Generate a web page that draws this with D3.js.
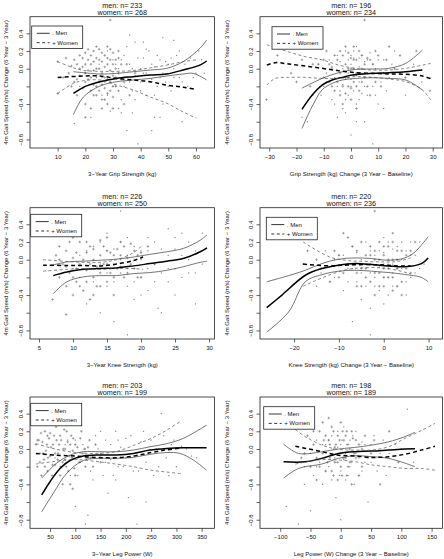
<!DOCTYPE html>
<html><head><meta charset="utf-8">
<script src="https://cdn.jsdelivr.net/npm/d3@7"></script>
<style>body{margin:0;background:#fff}svg{display:block}text{font-family:"Liberation Sans",Arial,sans-serif;fill:#111}</style>
</head><body><svg id="c" width="444" height="559"></svg>
<script>
// ---------- DATA ----------
const menTitles = ["men: n= 233","men: n= 196","men: n= 226","men: n= 220","men: n= 203","men: n= 198"];
const womenTitles = ["women: n= 268","women: n= 234","women: n= 250","women: n= 236","women: n= 199","women: n= 189"];
const xTitles = ["3\u2212Year Grip Strength (kg)","Grip Strength (kg) Change (3 Year \u2212 Baseline)","3\u2212Year Knee Strength (kg)","Knee Strength (kg) Change (3 Year \u2212 Baseline)","3\u2212Year Leg Power (W)","Leg Power (W) Change (3 Year \u2212 Baseline)"];
const yTitle = "4m Gait Speed (m/s) Change (6 Year \u2212 3 Year)";
const xTicks = [[10,20,30,40,50,60],[-30,-20,-10,0,10,20,30],[5,10,15,20,25,30],[-20,-10,0,10],[50,100,150,200,250,300,350],[-100,-50,0,50,100,150]];
const yTicks = [0.4,0.2,0.0,-0.2,-0.4,-0.6,-0.8];
const yTickLabels = ["0.4","0.2","0.0","","\u22120.4","","\u22120.8"];
const legendLabels = [". Men","+ Women"];

// panel 1: 3-year grip strength
const p1MenMean=[[15.7,-0.28],[20,-0.2],[25.3,-0.147],[31.3,-0.11],[37.3,-0.09],[43.4,-0.072],[49.4,-0.06],[55.4,-0.015],[61.4,0.04],[63.9,0.087]];
const p1MenHi=[[15.7,-0.034],[25.3,-0.06],[31.3,-0.053],[37.3,-0.034],[43.4,-0.015],[49.4,0.004],[55.4,0.08],[61.4,0.23],[63.9,0.325]];
const p1MenLo=[[15.7,-0.52],[19.3,-0.32],[25.3,-0.196],[31.3,-0.147],[37.3,-0.128],[43.4,-0.11],[49.4,-0.083],[55.4,-0.06],[59,-0.053],[63.9,-0.128]];
const p1WomMean=[[10,-0.1],[19.3,-0.083],[25.3,-0.083],[31.3,-0.11],[37.3,-0.128],[43.4,-0.147],[49.4,-0.185],[55.4,-0.21],[60.2,-0.234]];
const p1WomHi=[[10,0.08],[15.7,0.01],[19.3,-0.02],[25.3,-0.03],[31.3,-0.03],[37.3,-0.02],[43.4,0.01],[49.4,0.04],[55.4,0.08],[60.2,0.1]];
const p1WomLo=[[10,-0.28],[15.7,-0.166],[19.3,-0.136],[25.3,-0.128],[31.3,-0.185],[37.3,-0.24],[43.4,-0.32],[49.4,-0.39],[55.4,-0.49],[60.2,-0.56]];
const p1MenPts=[[16,-0.62],[18,-0.2],[20,-0.05],[22,-0.55],[24,-0.1],[25,0.05],[26,-0.3],[27,-0.15],[28,0.2],[29,-0.48],[30,-0.05],[30,0.1],[31,-0.2],[32,0.0],[33,-0.35],[34,0.15],[35,-0.1],[35,-0.7],[36,0.05],[37,-0.25],[38,0.3],[38,-0.08],[39,-0.85],[40,0.0],[40,-0.15],[41,0.12],[42,-0.3],[42,-0.05],[43,0.2],[44,-0.12],[45,0.02],[45,-0.55],[46,-0.2],[47,0.1],[48,-0.05],[48,0.35],[49,-0.15],[50,0.05],[51,-0.25],[52,0.0],[53,0.15],[54,-0.1],[55,-0.6],[56,0.05],[57,-0.2],[58,0.12],[60,-0.05],[62,0.1],[36,0.38],[44,-0.7],[33,-0.5],
 [26,-0.1],[28,-0.3],[30,-0.2],[31,0.05],[32,-0.45],[33,0.1],[34,-0.2],[35,0.25],[36,-0.15],[37,0.0],[38,-0.35],[39,0.12],[40,-0.25],[41,-0.05],[42,0.22],[43,-0.15],[44,0.05],[45,-0.3],[46,0.15],[47,-0.1],[48,-0.4],[49,0.08],[50,-0.2],[51,0.12],[52,-0.1],[54,0.2],[55,-0.15],[57,0.0],[59,-0.1],[61,0.2],[63,-0.05],[37,-0.5],[47,-0.55],[41,0.3],[52,0.32]];
const p1WomPts=[[10,0.08],[10,-0.28],[12,-0.1],[13,0.12],[14,-0.05],[15,0.03],[15,-0.2],[16,0.1],[16,-0.15],[17,-0.3],[17,0.05],[18,0.15],[18,-0.08],[19,-0.22],[19,0.02],[20,0.18],[20,-0.05],[20,-0.4],[21,0.1],[21,-0.12],[22,-0.25],[22,0.05],[22,-0.45],[23,0.2],[23,-0.02],[23,-0.18],[24,0.12],[24,-0.08],[24,-0.3],[25,0.0],[25,-0.15],[25,0.22],[26,-0.05],[26,-0.35],[26,0.08],[27,0.15],[27,-0.1],[27,-0.22],[28,0.05],[28,-0.28],[28,0.25],[29,-0.02],[29,-0.15],[29,0.1],[30,-0.08],[30,0.18],[30,-0.32],[31,0.0],[31,-0.2],[32,-0.05],[32,0.12],[33,-0.12],[34,-0.4],[35,0.05],[36,-0.3],[38,-0.05],[20,-0.55],[29,0.55],
 [18,0.0],[19,0.12],[20,-0.15],[21,-0.02],[21,0.22],[22,-0.1],[22,0.15],[23,-0.3],[23,0.08],[24,0.0],[24,-0.2],[25,-0.25],[25,0.1],[26,0.18],[26,-0.18],[27,0.02],[27,-0.35],[28,-0.12],[28,0.12],[29,-0.25],[29,0.22],[30,0.05],[30,-0.2],[31,0.1],[31,-0.1],[32,-0.25],[33,0.05],[34,-0.15],[24,0.25],[26,-0.45],[28,-0.4],[20,0.05],[17,-0.12],[30,-0.45],[32,0.2]];

// panel 2: grip strength change
const p2MenMean=[[-18,-0.46],[-14.3,-0.3],[-10.6,-0.185],[-6.9,-0.128],[-3.2,-0.098],[0.4,-0.072],[7.8,-0.053],[13.9,-0.045],[20.1,-0.034],[26.2,-0.015]];
const p2MenHi=[[-18,-0.22],[-10.6,-0.11],[-4.5,-0.045],[1.7,-0.008],[7.8,-0.004],[13.9,0.004],[20.1,0.06],[26.2,0.21]];
const p2MenLo=[[-18,-0.675],[-14.3,-0.43],[-10.6,-0.24],[-6.9,-0.166],[-3.2,-0.128],[1.7,-0.11],[7.8,-0.102],[13.9,-0.11],[20.1,-0.128],[26.2,-0.24]];
const p2WomMean=[[-30.9,0.04],[-27.8,0.068],[-22.9,0.053],[-16.7,0.03],[-10.6,0.004],[-4.5,-0.023],[1.7,-0.045],[7.8,-0.053],[13.9,-0.06],[20.1,-0.064],[26.2,-0.083],[29.3,-0.113]];
const p2WomHi=[[-30.9,0.27],[-22.9,0.19],[-16.7,0.136],[-10.6,0.1],[-4.5,0.04],[1.7,0.004],[7.8,-0.015],[13.9,-0.015],[20.1,0.004],[26.2,0.04],[29.3,0.06]];
const p2WomLo=[[-30.9,-0.185],[-27.8,-0.11],[-22.9,-0.098],[-16.7,-0.098],[-10.6,-0.11],[-4.5,-0.11],[1.7,-0.09],[7.8,-0.098],[13.9,-0.117],[20.1,-0.147],[26.2,-0.24],[29.3,-0.355]];
const p2MenPts=[[-18,-0.55],[-14,-0.3],[-12,0.05],[-10,-0.2],[-9,-0.05],[-8,0.1],[-7,-0.35],[-6,-0.1],[-5,0.15],[-4,-0.25],[-3,0.0],[-3,-0.45],[-2,0.2],[-2,-0.12],[-1,-0.3],[0,0.05],[0,-0.2],[1,0.12],[1,-0.08],[2,-0.4],[2,0.25],[3,-0.15],[3,0.02],[4,-0.28],[5,0.08],[5,-0.6],[6,-0.05],[7,0.18],[8,-0.2],[9,0.0],[10,-0.4],[12,0.1],[14,-0.1],[16,0.2],[18,-0.05],[20,-0.3],[23,0.05],[26,-0.15],[-16,-0.6],[0,-0.75],[8,-0.85],[-5,-0.55],
 [-9,-0.15],[-7,0.0],[-6,-0.4],[-5,-0.2],[-4,0.08],[-3,-0.18],[-2,-0.35],[-1,0.1],[-1,-0.05],[0,0.15],[0,-0.12],[1,-0.25],[1,0.2],[2,-0.08],[3,-0.35],[3,0.12],[4,-0.05],[4,0.15],[5,-0.2],[6,-0.3],[6,0.1],[7,-0.1],[8,0.05],[9,-0.3],[10,0.1],[11,-0.15],[13,-0.25],[15,0.05],[-2,-0.5],[2,-0.6],[-11,-0.3],[12,-0.45]];
const p2WomPts=[[-31,-0.35],[-27,0.15],[-22,-0.05],[-18,0.1],[-15,-0.2],[-12,0.05],[-10,-0.1],[-9,0.2],[-8,-0.15],[-7,0.02],[-6,-0.25],[-5,0.1],[-4,-0.05],[-4,-0.3],[-3,0.15],[-2,-0.1],[-2,0.05],[-1,-0.2],[-1,0.18],[0,0.0],[0,-0.35],[1,0.1],[1,-0.15],[2,-0.05],[3,0.2],[3,-0.25],[4,0.0],[5,-0.1],[5,0.55],[6,0.12],[7,-0.3],[8,0.05],[9,-0.15],[10,0.15],[12,-0.05],[14,0.25],[16,0.0],[20,-0.1],[24,0.2],[29,-0.25],[-3,-0.4],[2,-0.45],
 [-10,0.1],[-8,0.05],[-7,-0.2],[-6,0.15],[-5,-0.15],[-4,0.2],[-3,-0.2],[-2,0.25],[-2,-0.28],[-1,0.0],[-1,-0.1],[0,0.12],[0,-0.22],[1,0.0],[1,0.25],[2,0.1],[2,-0.2],[3,-0.05],[4,0.15],[4,-0.15],[5,0.05],[6,-0.2],[7,0.1],[8,-0.05],[9,0.2],[11,-0.2],[13,0.1],[-14,0.05],[-20,-0.15],[18,0.15]];

// panel 3: 3-year knee strength
const p3MenMean=[[7.1,-0.18],[9.1,-0.14],[11.5,-0.108],[14,-0.1],[16.4,-0.093],[18.9,-0.07],[21.3,-0.044],[23.8,-0.017],[26.2,0.013],[28.7,0.09],[29.7,0.135]];
const p3MenHi=[[7.1,-0.06],[9.1,-0.025],[11.5,-0.017],[14,-0.006],[16.4,0.006],[18.9,0.03],[21.3,0.06],[23.8,0.09],[26.2,0.127],[28.7,0.22],[29.7,0.28]];
const p3MenLo=[[7.1,-0.384],[9.1,-0.25],[11.5,-0.195],[14,-0.18],[16.4,-0.18],[18.9,-0.157],[21.3,-0.146],[23.8,-0.12],[26.2,-0.08],[28.7,-0.03],[29.7,-0.017]];
const p3WomMean=[[5.6,-0.062],[9.1,-0.065],[11.5,-0.065],[14,-0.07],[16.4,-0.05],[18.9,-0.01],[20.3,0.03]];
const p3WomHi=[[5.6,0.0],[9.1,-0.02],[11.5,-0.03],[14,-0.03],[16.4,0.0],[18.9,0.08],[20.3,0.17]];
const p3WomLo=[[5.6,-0.13],[9.1,-0.11],[11.5,-0.1],[14,-0.11],[16.4,-0.1],[18.9,-0.1],[20.3,-0.11]];
const p3MenPts=[[10,-0.1],[11,0.05],[12,-0.5],[13,0.15],[13,-0.25],[14,-0.05],[15,0.1],[15,-0.3],[16,-0.05],[16,-0.7],[17,0.2],[17,-0.15],[17,0.55],[18,-0.3],[18,0.05],[19,-0.1],[19,0.15],[20,-0.2],[20,0.0],[21,0.1],[21,-0.35],[22,-0.05],[22,0.2],[23,-0.15],[23,-0.6],[24,0.05],[24,-0.25],[25,0.12],[25,-0.1],[26,-0.2],[26,0.3],[27,0.0],[27,-0.15],[28,0.1],[28,-0.5],[29,0.3],[29,-0.05],[20,-0.4],[18,-0.85],[14,-0.6],[22.5,-0.55],
 [11,-0.2],[12,0.1],[13,-0.1],[14,0.2],[15,-0.15],[16,0.12],[16,-0.25],[17,0.0],[18,-0.1],[18,0.25],[19,-0.25],[20,0.1],[21,-0.1],[22,-0.25],[23,0.12],[24,-0.1],[25,0.25],[26,0.05],[27,0.2],[28,-0.15],[19,-0.45],[15,0.3],[24,0.35],[21,0.25],[25,-0.4]];
const p3WomPts=[[7,-0.45],[7.5,0.05],[8,-0.2],[8,0.15],[8.5,-0.05],[9,-0.3],[9,0.1],[9.5,-0.15],[10,0.02],[10,0.25],[10.5,-0.25],[10.5,-0.1],[11,0.2],[11,-0.05],[11.5,-0.35],[12,0.08],[12,-0.12],[12.5,0.15],[13,-0.2],[13,0.0],[13.5,-0.08],[14,0.22],[14,-0.3],[14.5,-0.05],[15,0.1],[15,-0.25],[15.5,-0.15],[16,0.05],[16,-0.4],[16.5,0.12],[17,-0.08],[17,0.2],[17.5,-0.2],[18,0.02],[18.5,0.18],[19,-0.1],[19.5,0.05],[20,-0.2],[21,0.15],[22,-0.05],[9,-0.62],[12.5,-0.45],
 [8,0.0],[9,-0.08],[9.5,0.2],[10,-0.2],[10.5,0.08],[11,-0.3],[11.5,0.0],[12,0.2],[12,-0.25],[12.5,-0.05],[13,0.12],[13.5,-0.3],[14,0.05],[14,-0.15],[14.5,0.15],[15,-0.05],[15.5,0.08],[16,-0.2],[16.5,-0.1],[17,0.05],[17.5,0.15],[18,-0.15],[18.5,-0.05],[19,0.1],[19.5,-0.2],[20,0.08],[13,-0.4],[11,0.28],[15,0.25],[10,-0.4]];

// panel 4: knee strength change
const p4MenMean=[[-26.1,-0.543],[-22.7,-0.4],[-17.5,-0.176],[-13.8,-0.1],[-10.1,-0.062],[-6.4,-0.044],[-2.7,-0.055],[1,-0.07],[4.7,-0.08],[8.4,-0.044],[9.9,0.02]];
const p4MenHi=[[-26.1,-0.25],[-21.2,-0.18],[-17.5,-0.12],[-13.8,-0.044],[-10.1,0.005],[-6.4,0.02],[-2.7,0.013],[1,-0.006],[4.7,0.02],[7,0.09],[9.9,0.26]];
const p4MenLo=[[-26.1,-0.82],[-21.2,-0.59],[-17.5,-0.25],[-13.8,-0.17],[-10.1,-0.13],[-6.4,-0.12],[-2.7,-0.13],[1,-0.145],[4.7,-0.167],[8.4,-0.2],[9.9,-0.25]];
const p4WomMean=[[-18,-0.05],[-12,-0.07],[-8,-0.06],[-4,-0.055],[0,-0.06],[3,-0.07],[6,-0.07]];
const p4WomHi=[[-18,0.2],[-12,0.03],[-8,-0.01],[-4,-0.02],[0,-0.025],[3,-0.02],[6,0.02]];
const p4WomLo=[[-18,-0.3],[-12,-0.17],[-8,-0.11],[-4,-0.09],[0,-0.095],[3,-0.12],[6,-0.16]];
const p4MenPts=[[-18,-0.05],[-15,-0.3],[-13,0.1],[-11,-0.2],[-10,0.05],[-9,-0.35],[-8,-0.1],[-7,0.15],[-6,-0.25],[-5,0.0],[-5,-0.45],[-4,0.2],[-3,-0.15],[-3,-0.55],[-2,0.05],[-2,-0.3],[-1,0.1],[-1,-0.08],[0,-0.2],[0,0.25],[1,-0.05],[1,-0.4],[2,0.12],[2,-0.15],[3,0.0],[3,-0.3],[4,0.2],[4,-0.1],[5,-0.25],[6,0.05],[7,-0.15],[8,0.2],[9,-0.05],[-7,-0.7],[-3,-0.85],[-12,-0.25],
 [-9,0.05],[-8,-0.25],[-7,-0.1],[-6,0.08],[-5,-0.15],[-4,-0.3],[-4,-0.05],[-3,0.1],[-2,-0.2],[-1,-0.35],[0,0.08],[0,-0.05],[1,0.2],[1,-0.2],[2,-0.05],[2,-0.3],[3,0.15],[3,-0.1],[4,0.0],[5,0.1],[5,-0.4],[6,-0.2],[7,0.05],[8,-0.1],[-11,0.0],[-14,-0.15],[0,-0.5],[6,0.2]];
const p4WomPts=[[-17,0.1],[-14,-0.1],[-12,-0.25],[-10,0.05],[-9,-0.15],[-8,0.25],[-7,-0.05],[-6,0.1],[-6,-0.3],[-5,-0.1],[-4,0.05],[-4,-0.2],[-3,0.15],[-3,-0.05],[-2,-0.4],[-2,0.0],[-1,0.2],[-1,-0.15],[0,0.05],[0,-0.1],[0,-0.3],[1,0.15],[1,-0.2],[2,0.0],[2,-0.35],[3,0.1],[3,-0.1],[4,-0.25],[5,0.05],[6,-0.15],[7,0.2],[-2,0.55],[4,-0.4],
 [-11,0.1],[-10,-0.2],[-8,-0.05],[-7,0.15],[-6,-0.15],[-5,0.2],[-5,-0.3],[-4,-0.1],[-3,0.05],[-3,-0.25],[-2,0.1],[-2,-0.15],[-1,0.0],[-1,-0.3],[0,0.15],[0,-0.2],[1,0.0],[1,-0.1],[2,0.2],[2,-0.2],[3,0.0],[3,-0.3],[4,0.1],[5,-0.1],[6,0.1],[-15,0.0],[-9,0.3],[2,0.3]];

// panel 5: 3-year leg power
const p5MenMean=[[33.5,-0.52],[50,-0.37],[69.8,-0.22],[89.6,-0.13],[115.9,-0.08],[148.9,-0.068],[181.8,-0.068],[214.8,-0.05],[247.8,-0.012],[280.7,0.006],[313.7,0.014],[359.8,0.014]];
const p5MenHi=[[33.5,-0.33],[63.2,-0.16],[89.6,-0.07],[115.9,-0.031],[148.9,-0.031],[181.8,-0.031],[214.8,-0.012],[247.8,0.025],[280.7,0.06],[313.7,0.12],[359.8,0.27]];
const p5MenLo=[[33.5,-0.71],[56.6,-0.5],[83,-0.275],[115.9,-0.13],[148.9,-0.105],[181.8,-0.105],[214.8,-0.095],[247.8,-0.06],[280.7,-0.04],[307,-0.05],[333.5,-0.125],[359.8,-0.24]];
const p5WomMean=[[22,-0.05],[60,-0.07],[100,-0.08],[140,-0.095],[180,-0.1],[215,-0.08],[250,-0.04],[280,-0.01],[310,0.01]];
const p5WomHi=[[22,0.06],[60,0.0],[100,-0.04],[140,-0.05],[180,-0.03],[215,0.04],[250,0.12],[280,0.21],[310,0.32]];
const p5WomLo=[[22,-0.17],[60,-0.14],[100,-0.12],[140,-0.14],[180,-0.17],[215,-0.2],[250,-0.24],[280,-0.26],[310,-0.28]];
const p5MenPts=[[60,-0.1],[80,0.05],[90,-0.3],[100,0.1],[100,-0.65],[110,-0.15],[120,0.0],[120,-0.85],[125,-0.75],[130,-0.25],[140,0.15],[150,-0.05],[155,-0.3],[160,0.1],[165,-0.5],[170,-0.12],[180,0.2],[185,-0.2],[190,0.02],[200,-0.1],[205,-0.55],[210,0.15],[215,-0.25],[220,-0.05],[222,-0.85],[230,0.08],[240,-0.15],[250,0.1],[255,-0.3],[260,0.0],[270,0.4],[280,-0.1],[290,0.05],[300,-0.2],[310,0.03],[330,-0.08],[240,-0.6],[180,-0.35],
 [70,-0.2],[85,0.1],[95,-0.1],[105,-0.3],[115,0.05],[125,-0.1],[135,-0.35],[145,0.0],[150,0.2],[160,-0.15],[170,0.05],[175,-0.3],[185,0.1],[195,-0.2],[200,0.12],[210,-0.1],[225,-0.25],[235,0.2],[245,-0.05],[265,-0.2],[275,0.15],[285,-0.3],[295,0.1],[320,0.0],[340,-0.1]];
const p5WomPts=[[22,0.05],[25,-0.2],[28,0.1],[30,-0.05],[33,-0.3],[35,0.08],[38,-0.12],[40,0.2],[42,-0.02],[45,-0.25],[48,0.12],[50,-0.08],[52,0.02],[55,-0.18],[58,0.15],[60,-0.05],[62,0.25],[65,-0.12],[68,0.05],[70,-0.3],[72,0.1],[75,-0.15],[78,0.22],[80,0.0],[82,-0.2],[85,0.08],[88,-0.08],[90,-0.4],[92,0.15],[95,-0.02],[98,-0.22],[100,0.05],[105,-0.1],[110,0.12],[115,-0.05],[120,-0.2],[125,0.02],[130,-0.1],[140,0.05],[150,-0.15],[45,0.15],[85,0.3],
 [25,0.1],[30,-0.15],[32,0.18],[36,-0.05],[40,-0.2],[44,0.05],[46,-0.1],[50,0.18],[54,-0.3],[56,0.05],[60,-0.18],[63,0.1],[66,-0.05],[70,0.15],[72,-0.2],[76,0.0],[80,-0.12],[83,0.2],[86,-0.25],[90,0.05],[93,-0.1],[96,0.12],[100,-0.3],[104,0.02],[108,-0.15],[112,0.2],[118,0.0],[122,-0.1],[128,0.1],[135,-0.2],[60,0.3],[75,-0.4],[95,-0.45]];

// panel 6: leg power change
const p6MenMean=[[-94.5,-0.145],[-58.8,-0.145],[-31.3,-0.106],[-3.8,-0.05],[23.6,-0.03],[51.1,-0.024],[78.6,-0.012],[106,0.0],[122.5,0.003]];
const p6MenHi=[[-94.5,0.055],[-69.8,-0.05],[-31.3,-0.031],[-3.8,0.0],[23.6,0.018],[51.1,0.044],[78.6,0.08],[106,0.14],[122.5,0.19]];
const p6MenLo=[[-94.5,-0.33],[-69.8,-0.22],[-31.3,-0.17],[-3.8,-0.106],[23.6,-0.076],[51.1,-0.087],[78.6,-0.106],[106,-0.16],[122.5,-0.2]];
const p6WomMean=[[-75,0.03],[-31.3,-0.03],[-3.8,-0.07],[23.6,-0.08],[51.1,-0.095],[78.6,-0.088],[106,-0.06],[133.5,-0.012],[155.5,0.03]];
const p6WomHi=[[-75,0.22],[-58.8,0.14],[-31.3,0.044],[-3.8,-0.005],[23.6,-0.012],[51.1,-0.012],[78.6,0.025],[106,0.12],[133.5,0.21],[155.5,0.29]];
const p6WomLo=[[-75,-0.17],[-31.3,-0.12],[-3.8,-0.125],[23.6,-0.143],[51.1,-0.18],[78.6,-0.2],[106,-0.22],[133.5,-0.22],[155.5,-0.24]];
const p6MenPts=[[-90,-0.65],[-70,-0.85],[-60,-0.2],[-50,-0.05],[-45,-0.3],[-40,0.1],[-35,-0.15],[-30,-0.4],[-25,0.05],[-20,-0.2],[-15,0.15],[-10,-0.1],[-8,-0.55],[-5,0.02],[0,-0.25],[0,-0.8],[2,0.1],[5,-0.12],[8,-0.35],[10,0.05],[15,-0.2],[20,0.15],[25,-0.05],[30,-0.3],[35,0.08],[40,-0.15],[50,0.05],[60,-0.25],[70,0.1],[80,-0.05],[100,0.0],[110,0.45],[120,-0.15],[-50,-0.7],[45,-0.6],
 [-40,-0.2],[-30,0.05],[-25,-0.25],[-20,0.1],[-15,-0.35],[-12,0.0],[-8,-0.15],[-5,0.2],[-2,-0.3],[0,0.05],[3,-0.1],[5,0.25],[8,-0.05],[12,-0.3],[15,0.1],[18,-0.15],[22,-0.4],[25,0.2],[30,-0.1],[35,-0.25],[40,0.05],[50,-0.15],[55,0.15],[65,-0.05],[75,-0.3],[-60,-0.4],[90,0.05]];
const p6WomPts=[[-80,0.25],[-65,-0.1],[-55,0.15],[-50,-0.2],[-45,0.05],[-40,-0.35],[-35,0.2],[-30,-0.05],[-25,-0.25],[-20,0.1],[-18,-0.1],[-15,0.25],[-12,-0.3],[-10,0.02],[-5,0.15],[-5,-0.15],[0,0.3],[0,-0.05],[2,-0.3],[5,0.1],[8,-0.1],[10,0.2],[12,-0.2],[15,0.0],[18,-0.4],[20,0.12],[25,-0.1],[30,0.05],[35,-0.2],[40,0.15],[50,-0.05],[65,-0.4],[80,0.2],[95,-0.15],[-30,0.3],
 [-45,0.2],[-40,-0.1],[-35,-0.2],[-28,0.1],[-25,0.15],[-22,-0.15],[-18,0.05],[-15,-0.25],[-12,0.2],[-10,-0.15],[-8,0.05],[-5,-0.35],[-2,0.1],[0,-0.2],[3,0.2],[5,-0.1],[8,0.15],[10,-0.3],[12,0.05],[15,-0.15],[18,0.2],[22,-0.05],[25,0.1],[30,-0.3],[35,0.0],[45,-0.1],[55,0.1],[-60,-0.05],[-20,0.35]];

const curves = [
  [p1MenMean,p1MenHi,p1MenLo,p1WomMean,p1WomHi,p1WomLo],
  [p2MenMean,p2MenHi,p2MenLo,p2WomMean,p2WomHi,p2WomLo],
  [p3MenMean,p3MenHi,p3MenLo,p3WomMean,p3WomHi,p3WomLo],
  [p4MenMean,p4MenHi,p4MenLo,p4WomMean,p4WomHi,p4WomLo],
  [p5MenMean,p5MenHi,p5MenLo,p5WomMean,p5WomHi,p5WomLo],
  [p6MenMean,p6MenHi,p6MenLo,p6WomMean,p6WomHi,p6WomLo]];
const menPts = [p1MenPts,p2MenPts,p3MenPts,p4MenPts,p5MenPts,p6MenPts];
const womPts = [p1WomPts,p2WomPts,p3WomPts,p4WomPts,p5WomPts,p6WomPts];

// ---------- LAYOUT ----------
const xDomains = [[0,66.7],[-33.4,33.6],[3.68,30.8],[-27.6,13.1],[10.4,375.4],[-133.4,168]];
const yDomain = [-0.897,0.588];
const colX = [[30,214.5],[260,442.5]];
const yTitleOff = [22.5,31.5];
const rowTop = [16.7,207.7,397];
const boxH = 131.3;
const legendPos = [[31.7,26],[272,26.7],[30.7,214.3],[266.3,217.3],[30.7,403.3],[263.7,406.7]];

const svg = d3.select("#c");
svg.append("rect").attr("width",444).attr("height",559).attr("fill","#fff");
const AX = 6, TT = 7.2;

for (let i=0;i<6;i++){
  const c = i%2, r = Math.floor(i/2);
  const [x0,x1] = colX[c], y0 = rowTop[r], y1 = y0+boxH;
  const x = d3.scaleLinear().domain(xDomains[i]).range([x0,x1]);
  const y = d3.scaleLinear().domain(yDomain).range([y1,y0]);
  const g = svg.append("g");
  const clip = "clip"+i;
  svg.append("clipPath").attr("id",clip).append("rect").attr("x",x0).attr("y",y0).attr("width",x1-x0).attr("height",y1-y0);
  const inner = g.append("g").attr("clip-path",`url(#${clip})`);

  // points
  inner.selectAll("rect.m").data(menPts[i]).join("rect").attr("class","m")
    .attr("x",d=>x(d[0])-0.6).attr("y",d=>y(d[1])-0.6).attr("width",1.2).attr("height",1.2).attr("fill","#8a8a8a");
  inner.selectAll("path.w").data(womPts[i]).join("path").attr("class","w")
    .attr("d",d=>{const px=x(d[0]),py=y(d[1]),s=1.3;return `M${px-s},${py}H${px+s}M${px},${py-s}V${py+s}`;})
    .attr("stroke","#777").attr("stroke-width",0.6).attr("fill","none");

  // curves
  const line = d3.line().x(d=>x(d[0])).y(d=>y(d[1])).curve(d3.curveCatmullRom.alpha(0.5));
  const styles = [
    {w:1.5,c:"#000",da:null},{w:0.7,c:"#3a3a3a",da:null},{w:0.7,c:"#3a3a3a",da:null},
    {w:1.5,c:"#000",da:"4,3"},{w:0.7,c:"#555",da:"3,2.5"},{w:0.7,c:"#555",da:"3,2.5"}];
  curves[i].forEach((dat,k)=>{
    const s = styles[k];
    inner.append("path").attr("d",line(dat)).attr("fill","none").attr("stroke",s.c)
      .attr("stroke-width",s.w).attr("stroke-dasharray",s.da);
  });

  // box
  g.append("rect").attr("x",x0).attr("y",y0).attr("width",x1-x0).attr("height",y1-y0)
    .attr("fill","none").attr("stroke","#222").attr("stroke-width",0.8);

  // x axis
  const xa = g.append("g").attr("transform",`translate(0,${y1})`)
    .call(d3.axisBottom(x).tickValues(xTicks[i]).tickSize(3.5).tickPadding(3)
      .tickFormat(v=>v<0?"\u2212"+Math.abs(v):String(v)));
  xa.select(".domain").remove();
  xa.selectAll("line").attr("stroke","#222").attr("stroke-width",0.7);
  xa.selectAll("text").attr("font-size",AX).attr("fill","#222").attr("font-family","Liberation Sans, Arial, sans-serif");

  // y axis
  const ya = g.append("g").attr("transform",`translate(${x0},0)`)
    .call(d3.axisLeft(y).tickValues(yTicks).tickSize(3.5).tickFormat((v,j)=>yTickLabels[j]));
  ya.select(".domain").remove();
  ya.selectAll("line").attr("stroke","#222").attr("stroke-width",0.7);
  ya.selectAll("text").attr("font-size",AX).attr("fill","#222").attr("font-family","Liberation Sans, Arial, sans-serif")
    .attr("transform","rotate(-90)").attr("x",0).attr("y",-7.5).attr("dy",0).attr("text-anchor","middle");

  // axis titles
  g.append("text").attr("x",(x0+x1)/2).attr("y",y1+27.5).attr("text-anchor","middle")
    .attr("font-size",AX).attr("fill","#222").text(xTitles[i]);
  g.append("text").attr("transform",`translate(${x0-yTitleOff[c]},${(y0+y1)/2}) rotate(-90)`).attr("text-anchor","middle")
    .attr("font-size",AX).attr("fill","#222").text(yTitle);

  // titles
  g.append("text").attr("x",(x0+x1)/2).attr("y",y0-9.2).attr("text-anchor","middle").attr("font-size",TT).attr("fill","#111").text(menTitles[i]);
  g.append("text").attr("x",(x0+x1)/2).attr("y",y0-1.6).attr("text-anchor","middle").attr("font-size",TT).attr("fill","#111").text(womenTitles[i]);

  // legend
  const [lx,ly] = legendPos[i];
  const lg = g.append("g").attr("transform",`translate(${lx},${ly})`);
  lg.append("rect").attr("width",51).attr("height",22.5).attr("fill","#fff").attr("stroke","#222").attr("stroke-width",0.8);
  [[0,null],[1,"3,2.5"]].forEach(([k,da])=>{
    const yy = 7.3 + k*9.4;
    lg.append("line").attr("x1",5).attr("x2",18).attr("y1",yy).attr("y2",yy).attr("stroke","#000").attr("stroke-width",0.8).attr("stroke-dasharray",da);
    lg.append("text").attr("x",20.5).attr("y",yy+2.1).attr("font-size",AX).attr("fill","#111").text(legendLabels[k]);
  });
}
</script></body></html>
